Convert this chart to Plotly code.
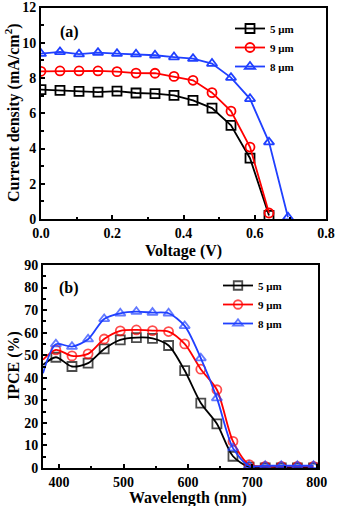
import plotly.graph_objects as go

# ---------- Panel (a): J-V ----------
voltage = [0.0, 0.0533, 0.1067, 0.16, 0.2133, 0.2667, 0.32, 0.3733, 0.4267, 0.48, 0.5333, 0.5867, 0.64, 0.6933]
j_5um = [7.34, 7.30, 7.24, 7.20, 7.26, 7.15, 7.11, 7.01, 6.73, 6.29, 5.31, 3.45, 0.2]
j_9um = [8.38, 8.40, 8.40, 8.40, 8.36, 8.28, 8.27, 8.09, 7.87, 7.17, 6.12, 4.08, 0.34]
j_8um = [9.38, 9.48, 9.35, 9.44, 9.38, 9.35, 9.29, 9.19, 9.10, 8.82, 8.02, 6.82, 4.36, 0.1]

# ---------- Panel (b): IPCE ----------
wavelength = [375, 395, 420, 445, 470, 495, 520, 545, 570, 595, 620, 645, 670, 695, 720, 745, 770, 795]
ipce_5um = [45.7, 49.1, 45.0, 46.5, 52.8, 56.8, 57.8, 57.5, 54.3, 43.2, 28.8, 19.6, 5.2, 0.4, 0.0, 0.0, 0.0, 0.0]
ipce_9um = [48.0, 52.4, 49.7, 50.6, 57.2, 60.8, 61.2, 60.9, 60.5, 55.0, 43.8, 34.7, 11.8, 1.5, 0.7, 0.7, 0.7, 0.7]
ipce_8um = [42.0, 54.9, 53.8, 57.1, 66.1, 68.6, 69.3, 68.9, 68.6, 63.0, 48.7, 31.0, 8.8, 1.0, 1.0, 1.0, 1.0, 1.0]

names = ["5 μm", "9 μm", "8 μm"]
colors = ["#000000", "#ff0000", "#2040ff"]
symbols = ["square-open", "circle-open", "triangle-up-open"]

W, H = 338, 506
FONT = "Liberation Serif"

fig = go.Figure()

a_series = [(voltage[:len(j_5um)], j_5um), (voltage[:len(j_9um)], j_9um), (voltage[:len(j_8um)], j_8um)]
for (x, y), n, c, s in zip(a_series, names, colors, symbols):
    fig.add_trace(go.Scatter(
        x=x, y=y, name=n, mode="lines+markers",
        line=dict(color=c, width=1.8),
        marker=dict(symbol=s, size=9, color=c, line=dict(width=1.8, color=c)),
        xaxis="x", yaxis="y", legend="legend"))

b_series = [ipce_5um, ipce_9um, ipce_8um]
sizes = [0] + [9] * (len(wavelength) - 1)
for y, n, c, s in zip(b_series, names, colors, symbols):
    fig.add_trace(go.Scatter(
        x=wavelength, y=y, name=n, mode="lines+markers",
        line=dict(color=c, width=1.8, shape="spline", smoothing=0.8),
        marker=dict(symbol=s, size=sizes, color=c, line=dict(width=1.8, color=c)),
        xaxis="x2", yaxis="y2", legend="legend2"))

def px_x(p):
    return p / W

def px_y(p):
    return 1 - p / H

axis_common = dict(
    showline=True, linecolor="black", linewidth=2, mirror=True,
    ticks="inside", ticklen=4, tickwidth=1.5, tickcolor="black",
    showgrid=False, zeroline=False, automargin=False,
    tickfont=dict(family=FONT, size=14, color="black", weight="bold"),
)

def minor(d):
    return dict(dtick=d, ticks="inside", ticklen=2.5, tickwidth=1.5, tickcolor="black")

legend_font = dict(family=FONT, size=11, color="black", weight="bold")

fig.update_layout(
    width=W, height=H,
    margin=dict(l=0, r=0, t=0, b=0),
    paper_bgcolor="white", plot_bgcolor="white",
    font=dict(family=FONT, color="black"),
    xaxis=dict(domain=[px_x(41), px_x(326)], range=[0, 0.8], dtick=0.2, tickformat=".1f",
               anchor="y", minor=minor(0.1), **axis_common),
    yaxis=dict(domain=[px_y(219), px_y(7.5)], range=[0, 12], dtick=2,
               anchor="x", minor=minor(1), **axis_common),
    xaxis2=dict(domain=[px_x(43), px_x(318)], range=[375, 802], dtick=100,
                anchor="y2", minor=minor(50), **axis_common),
    yaxis2=dict(domain=[px_y(468), px_y(265)], range=[0, 90], dtick=10,
                anchor="x2", minor=minor(5), **axis_common),
    legend=dict(x=px_x(230), y=px_y(14), xanchor="left", yanchor="top",
                bgcolor="rgba(0,0,0,0)", font=legend_font, itemwidth=30, tracegroupgap=0),
    legend2=dict(x=px_x(218), y=px_y(271), xanchor="left", yanchor="top",
                 bgcolor="rgba(0,0,0,0)", font=legend_font, itemwidth=30, tracegroupgap=0),
    showlegend=True,
)

title_font = dict(family=FONT, size=16, color="black", weight="bold")

def label(text, x, y, angle=0):
    fig.add_annotation(text=text, x=px_x(x), y=px_y(y), xref="paper", yref="paper",
                       xanchor="center", yanchor="middle", textangle=angle,
                       showarrow=False, font=title_font)

label("Current density (mA/cm<sup>2</sup>)", 12, 113, -90)
label("Voltage (V)", 183, 251)
label("IPCE (%)", 14, 366, -90)
label("Wavelength (nm)", 188, 498)
label("(a)", 69, 32)
label("(b)", 69, 288)

fig.write_html("out.html", config={"displayModeBar": False},
               post_script="document.body.style.margin='0px';")
